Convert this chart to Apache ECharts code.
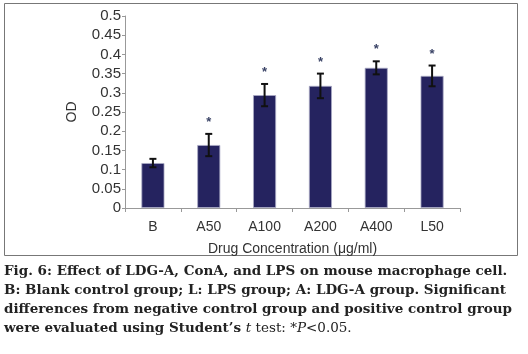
<!DOCTYPE html>
<html>
<head>
<meta charset="utf-8">
<script src="https://cdn.jsdelivr.net/npm/echarts@6/dist/echarts.min.js"></script>
<style>
  html, body { margin: 0; padding: 0; background: #fff; }
  #chart { width: 528px; height: 354px; }
</style>
</head>
<body>
<div id="chart"></div>
<script>
// data
var groups = ['B', 'A50', 'A100', 'A200', 'A400', 'L50'];
var odMean = [0.117, 0.164, 0.294, 0.318, 0.365, 0.344];
var odErr  = [0.011, 0.029, 0.029, 0.032, 0.017, 0.027];
var signif = ['', '*', '*', '*', '*', '*'];
var yTicks = [0, 0.05, 0.1, 0.15, 0.2, 0.25, 0.3, 0.35, 0.4, 0.45, 0.5];

var errData = groups.map(function (g, i) {
  return [i, odMean[i] - odErr[i], odMean[i] + odErr[i]];
});

var myChart = echarts.init(document.getElementById('chart'));
var serif = '"DejaVu Serif", serif';
var capFont = 'bold 13.5px ' + serif;

var option = {
  animation: false,
  backgroundColor: '#fff',
  grid: { left: 125, right: 68, top: 16, bottom: 146 },
  xAxis: {
    type: 'category',
    data: groups,
    name: 'Drug Concentration (μg/ml)',
    nameLocation: 'middle',
    nameGap: 34,
    nameTextStyle: { fontFamily: 'Liberation Sans', fontSize: 14, color: '#333' },
    axisLine: { lineStyle: { color: '#999', width: 1 } },
    axisTick: { show: true, length: 4, lineStyle: { color: '#999' } },
    axisLabel: { fontFamily: 'Liberation Sans', fontSize: 14, color: '#333', margin: 12 }
  },
  yAxis: {
    type: 'value',
    min: 0, max: 0.5, interval: 0.05,
    name: 'OD',
    nameLocation: 'middle',
    nameGap: 46,
    nameRotate: 90,
    nameTextStyle: { fontFamily: 'Liberation Sans', fontSize: 14, color: '#333' },
    axisLine: { show: true, lineStyle: { color: '#999', width: 1 } },
    axisTick: { show: true, length: 3, lineStyle: { color: '#999' } },
    splitLine: { show: false },
    axisLabel: {
      fontFamily: 'Liberation Sans', fontSize: 15, color: '#333', margin: 4,
      formatter: function (v) {
        var t = yTicks.filter(function (k) { return Math.abs(k - v) < 1e-9; });
        return t.length ? String(+t[0].toFixed(2)) : '';
      }
    }
  },
  series: [
    {
      type: 'bar',
      data: odMean,
      barWidth: 23,
      itemStyle: { color: '#25235f', borderColor: '#a9a9c4', borderWidth: 0.8 }
    },
    {
      type: 'custom',
      data: errData,
      z: 5,
      renderItem: function (params, api) {
        var i = api.value(0);
        var lo = api.coord([i, api.value(1)]);
        var hi = api.coord([i, api.value(2)]);
        var hw = 3.5;
        var st = { stroke: '#111', lineWidth: 2 };
        var kids = [
          { type: 'line', shape: { x1: hi[0], y1: hi[1], x2: lo[0], y2: lo[1] }, style: st },
          { type: 'line', shape: { x1: hi[0] - hw, y1: hi[1], x2: hi[0] + hw, y2: hi[1] }, style: st },
          { type: 'line', shape: { x1: lo[0] - hw, y1: lo[1], x2: lo[0] + hw, y2: lo[1] }, style: st }
        ];
        if (signif[i]) {
          kids.push({
            type: 'text',
            style: {
              text: signif[i], x: hi[0], y: hi[1] - 5,
              align: 'center', verticalAlign: 'bottom',
              font: 'bold 13px "Liberation Sans"', fill: '#3a4366'
            }
          });
        }
        return { type: 'group', children: kids };
      }
    }
  ],
  graphic: [
    {
      type: 'rect', silent: true,
      shape: { x: 4.5, y: 3.5, width: 513, height: 252 },
      style: { fill: 'none', stroke: '#777', lineWidth: 1 }
    },
    {
      type: 'text', left: 4, top: 264,
      style: {
        text: 'Fig. 6: Effect of LDG-A, ConA, and LPS on mouse macrophage cell.',
        font: capFont, fill: '#222'
      }
    },
    {
      type: 'text', left: 4, top: 283,
      style: {
        text: 'B: Blank control group; L: LPS group; A: LDG-A group. Significant',
        font: capFont, fill: '#222'
      }
    },
    {
      type: 'text', left: 4, top: 302,
      style: {
        text: 'differences from negative control group and positive control group',
        font: capFont, fill: '#222'
      }
    },
    {
      type: 'text', left: 4, top: 321,
      style: {
        text: '{b|were evaluated using Student\u2019s }{i|t}{r| test: *}{i|P}{r|<0.05.}',
        rich: {
          b: { font: capFont, fill: '#222' },
          i: { font: 'italic 13.5px ' + serif, fill: '#222' },
          r: { font: '13.5px ' + serif, fill: '#222' }
        }
      }
    }
  ]
};
myChart.setOption(option);
</script>
</body>
</html>
